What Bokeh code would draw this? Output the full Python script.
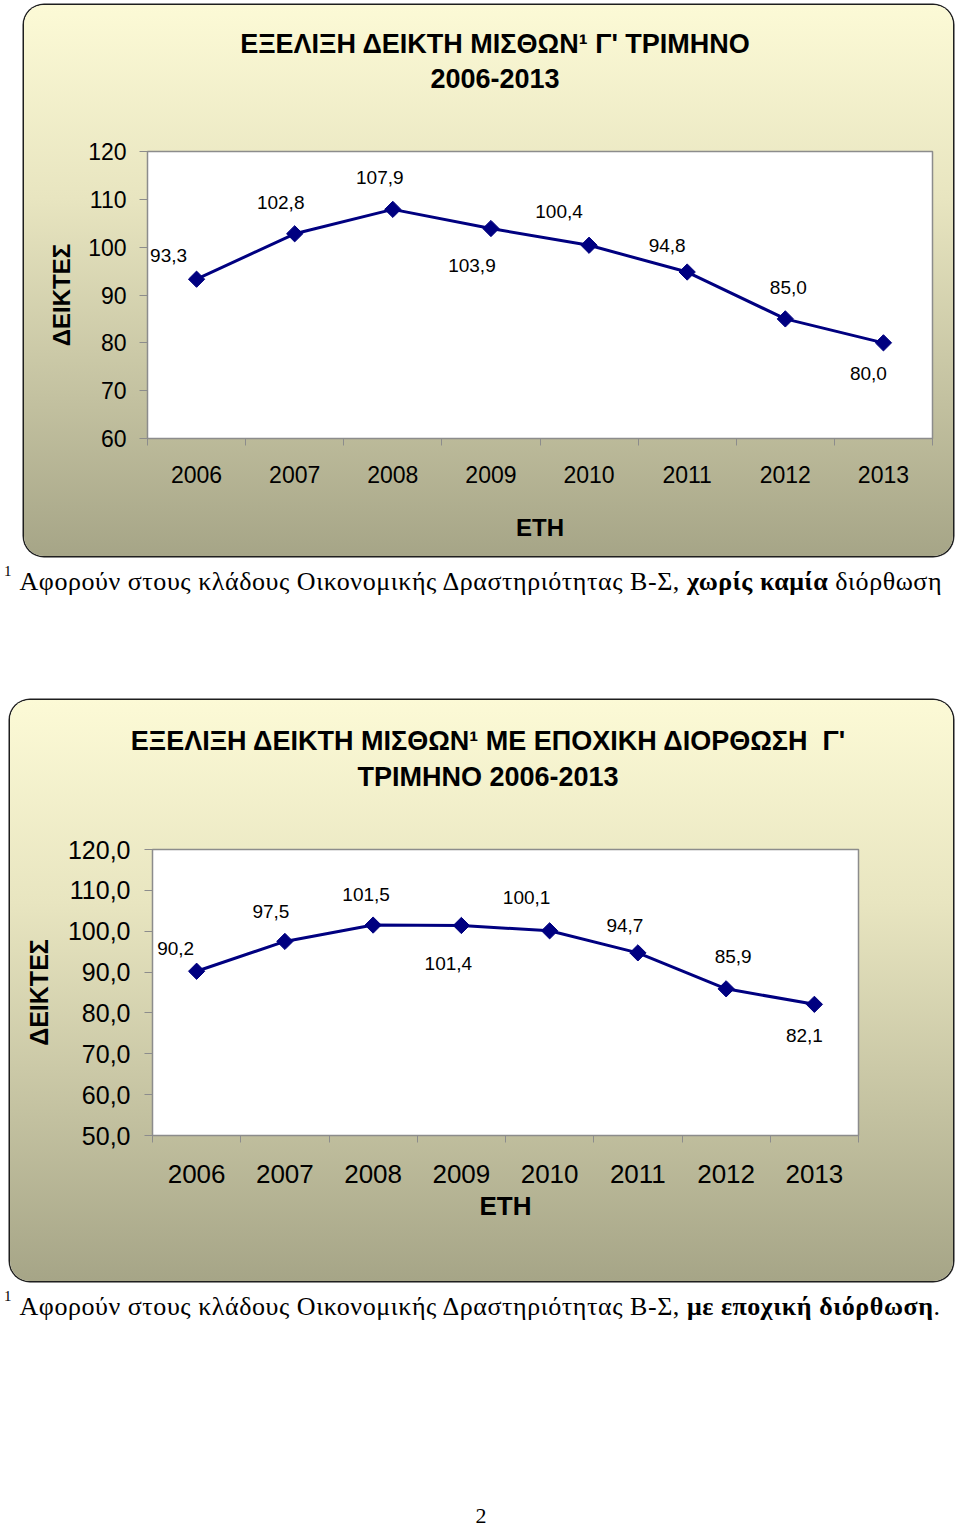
import math
from bokeh.plotting import figure
from bokeh.models import Range1d, FixedTicker, Div, Spacer, Column
from bokeh.layouts import column
from bokeh.core.properties import value
from bokeh.embed import file_html
from bokeh.resources import INLINE

# ---------------- data ----------------
years = ["2006", "2007", "2008", "2009", "2010", "2011", "2012", "2013"]
wage_index = [93.3, 102.8, 107.9, 103.9, 100.4, 94.8, 85.0, 80.0]
wage_index_sa = [90.2, 97.5, 101.5, 101.4, 100.1, 94.7, 85.9, 82.1]
y_ticks_1 = [60, 70, 80, 90, 100, 110, 120]
y_tick_labels_1 = ["60", "70", "80", "90", "100", "110", "120"]
y_ticks_2 = [50, 60, 70, 80, 90, 100, 110, 120]
y_tick_labels_2 = ["50,0", "60,0", "70,0", "80,0", "90,0", "100,0", "110,0", "120,0"]
title_1 = ["ΕΞΕΛΙΞΗ ΔΕΙΚΤΗ ΜΙΣΘΩΝ¹ Γ' ΤΡΙΜΗΝΟ", "2006-2013"]
title_2 = ["ΕΞΕΛΙΞΗ ΔΕΙΚΤΗ ΜΙΣΘΩΝ¹ ΜΕ ΕΠΟΧΙΚΗ ΔΙΟΡΘΩΣΗ  Γ'", "ΤΡΙΜΗΝΟ 2006-2013"]
x_title = "ΕΤΗ"
y_title = "ΔΕΙΚΤΕΣ"
note_lead = "Αφορούν στους κλάδους Οικονομικής Δραστηριότητας Β-Σ, "
note_1_bold = "χωρίς καμία"
note_1_tail = " διόρθωση"
note_2_bold = "με εποχική διόρθωση"
note_2_tail = "."
page_number = "2"

# ---------------- style ----------------
FONT = "Liberation Sans"
SANS_CSS = "'Liberation Sans', Arial, sans-serif"
SERIF_CSS = "'Liberation Serif', 'Times New Roman', serif"
NAVY = "#000080"
GRAY = "#8c8c8c"
PAGE_W = 955
BOX_STYLE = {
    "background": "linear-gradient(to bottom, rgb(252,250,214) 0%, rgb(232,229,192) 35%, rgb(166,165,135) 100%)",
    "border-radius": "20px",
    "box-shadow": "0 0 0 1.5px #1e1e1e, 1px 1px 1px rgba(0,0,0,0.35)",
}

label_offsets_1 = [(-28, -24), (-14, -31), (-13, -32), (-19, 37), (-30, -34), (-20, -27), (3, -31), (-15, 31)]
label_offsets_2 = [(-21, -23), (-14, -30), (-7, -31), (-13, 38), (-23, -33), (-13, -27), (7, -32), (-10, 31)]


def make_box(values, yticks, ylabels, ymin, ymax, box_w, title_h, fig_h, frame, titles,
             title_pad, title_lh, offsets, fs_xt, fs_yt, fs_xa, fs_ya,
             x_stand, x_title_stand, y_stand, y_title_stand, margin):
    FL, FT, FR, FB = frame
    n = len(values)

    title_html = (f'<div style="box-sizing:border-box;width:{box_w}px;font-family:{SANS_CSS};font-weight:bold;'
                  f'font-size:27px;line-height:{title_lh}px;text-align:center;white-space:pre;color:#000;'
                  f'padding-top:{title_pad}px;padding-left:13px;padding-right:0;">'
                  f'{titles[0]}<br>{titles[1]}</div>')
    tdiv = Div(text=title_html, width=box_w, height=title_h, margin=0)

    p = figure(width=box_w, height=fig_h, output_backend="svg", toolbar_location=None,
               x_range=Range1d(0, n), y_range=Range1d(ymin, ymax),
               min_border_left=FL, min_border_right=box_w - FR,
               min_border_top=FT, min_border_bottom=fig_h - FB,
               background_fill_color="white", border_fill_color=None,
               outline_line_color=GRAY, outline_line_width=1.5)
    if "frame_align" in p.properties():
        p.frame_align = False
    p.grid.visible = False

    xs = [i + 0.5 for i in range(n)]
    p.line(xs, values, line_color=NAVY, line_width=3)
    p.scatter(xs, values, marker="square", angle=math.pi / 4, size=11.5,
              fill_color=NAVY, line_color=NAVY)
    labels = [f"{v:.1f}".replace(".", ",") for v in values]
    p.text(xs, values, text=labels, x_offset=[o[0] for o in offsets], y_offset=[o[1] for o in offsets],
           text_align="center", text_baseline="middle", text_font=value(FONT),
           text_font_size="19px", text_color="black")

    xa = p.xaxis[0]
    xa.ticker = FixedTicker(ticks=xs, minor_ticks=list(range(n + 1)))
    xa.major_label_overrides = {x: y for x, y in zip(xs, years)}
    xa.major_tick_out = 0
    xa.major_tick_in = 0
    xa.minor_tick_out = 7
    xa.minor_tick_in = 0
    xa.minor_tick_line_color = GRAY
    xa.axis_line_color = GRAY
    xa.major_label_text_font = FONT
    xa.major_label_text_font_size = fs_xt
    xa.major_label_text_color = "black"
    xa.major_label_standoff = x_stand
    xa.axis_label = x_title
    xa.axis_label_text_font = FONT
    xa.axis_label_text_font_style = "bold"
    xa.axis_label_text_font_size = fs_xa
    xa.axis_label_text_color = "black"
    xa.axis_label_standoff = x_title_stand

    ya = p.yaxis[0]
    ya.ticker = FixedTicker(ticks=yticks)
    ya.major_label_overrides = {t: s for t, s in zip(yticks, ylabels)}
    ya.major_tick_out = 8
    ya.major_tick_in = 0
    ya.major_tick_line_color = GRAY
    ya.minor_tick_out = 0
    ya.minor_tick_in = 0
    ya.axis_line_color = GRAY
    ya.major_label_text_font = FONT
    ya.major_label_text_font_size = fs_yt
    ya.major_label_text_color = "black"
    ya.major_label_standoff = y_stand
    ya.axis_label = y_title
    ya.axis_label_text_font = FONT
    ya.axis_label_text_font_style = "bold"
    ya.axis_label_text_font_size = fs_ya
    ya.axis_label_text_color = "black"
    ya.axis_label_standoff = y_title_stand

    return Column(children=[tdiv, p], spacing=0, margin=margin, styles=BOX_STYLE)


box1 = make_box(wage_index, y_ticks_1, y_tick_labels_1, 60, 120, 929, 95, 456,
                (123, 51, 908, 338), title_1, 22, 35, label_offsets_1,
                "23px", "23px", "24px", "24px", 20, 28, 13, 10, (5, 0, 0, 24))
box2 = make_box(wage_index_sa, y_ticks_2, y_tick_labels_2, 50, 120, 943, 100, 481,
                (142, 49, 848, 335), title_2, 23, 36, label_offsets_2,
                "26px", "25px", "26px", "25px", 22, 5, 14, 12, (0, 0, 0, 10))


def note_div(bold, tail, pad_top):
    html = (f'<div style="font-family:{SERIF_CSS};font-size:26px;line-height:30px;letter-spacing:0.55px;'
            f'white-space:nowrap;color:#000;padding-top:{pad_top}px;padding-left:4px;">'
            f'<sup style="font-size:15px;vertical-align:14px;line-height:0;margin-right:8px;letter-spacing:0;">1</sup>'
            f'{note_lead}<b>{bold}</b>{tail}</div>')
    return Div(text=html, width=PAGE_W, height=50, margin=0)


d1 = note_div(note_1_bold, note_1_tail, 11)
d2 = note_div(note_2_bold, note_2_tail, 11)
d3 = Div(text=(f'<div style="box-sizing:border-box;width:962px;font-family:{SERIF_CSS};font-size:22px;'
               f'line-height:22px;text-align:center;padding-top:12px;color:#000;">{page_number}</div>'),
         width=955, height=34, margin=0)

layout = column(box1, d1, Spacer(width=10, height=94), box2, d2,
                Spacer(width=10, height=162), d3, spacing=0)

open("out.html", "w").write(file_html(layout, INLINE))
